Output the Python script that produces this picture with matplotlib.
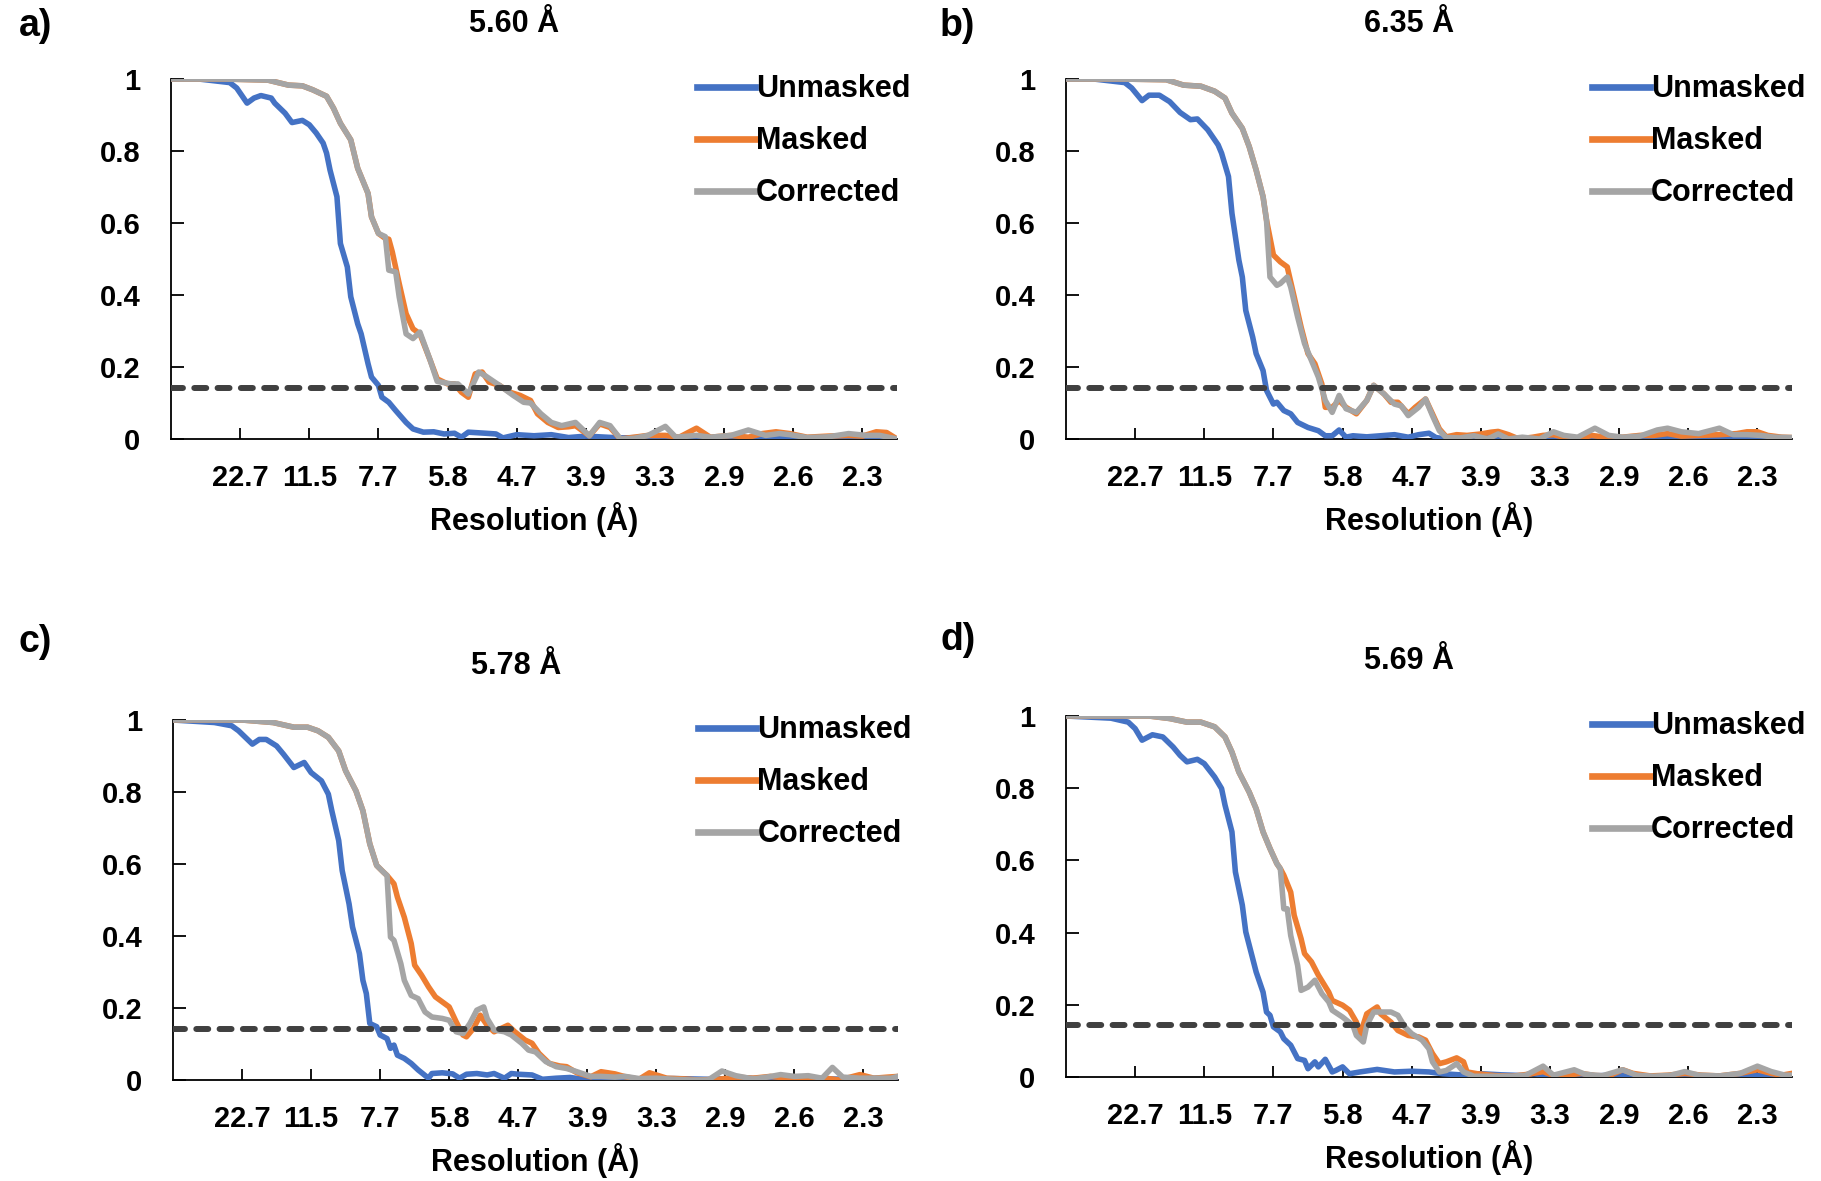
#!/usr/bin/env python
# -*- coding: utf-8 -*-

"""
FSC curves (Unmasked / Masked / Corrected) for four reconstructions, 2x2 panels.
"""

import matplotlib
matplotlib.use("Agg")
import matplotlib.pyplot as plt

# ---- data -------------------------------------------------------------------
# x is the shell index along the category axis (a tick label every 20 shells)
res_ticks = [20, 40, 60, 80, 100, 120, 140, 160, 180, 200]
res_labels = ['22.7', '11.5', '7.7', '5.8', '4.7', '3.9', '3.3', '2.9', '2.6', '2.3']
titles = ['5.60 Å', '6.35 Å', '5.78 Å', '5.69 Å']
panel_tags = ['a)', 'b)', 'c)', 'd)']
threshold = 0.143

# panel a
a_unm_x = [0, 8, 17, 19, 22, 24, 26, 29, 30, 33, 35, 38, 40, 42, 44, 45, 46, 48, 49, 51,
           52, 54, 55, 57, 58, 60, 61, 63, 65, 68, 70, 73, 76, 79, 82, 84, 86, 91, 94, 96,
           100, 105, 110, 115, 120, 130, 140, 150, 160, 170, 180, 190, 200, 210]
a_unm = [1.0, 1.0, 0.99, 0.975, 0.933, 0.947, 0.954, 0.947, 0.933, 0.905, 0.879, 0.885, 0.873,
         0.85, 0.822, 0.794, 0.747, 0.673, 0.543, 0.478, 0.395, 0.32, 0.292, 0.209, 0.172,
         0.149, 0.116, 0.102, 0.079, 0.046, 0.028, 0.019, 0.02, 0.014, 0.016, 0.005, 0.019,
         0.016, 0.014, 0.003, 0.012, 0.009, 0.012, 0.004, 0.008, 0.003, 0.005, 0.002, 0.004,
         0.003, 0.002, 0.004, 0.003, 0.0]
a_msk_x = [0, 15, 28, 31, 34, 38, 41, 45, 47, 49, 52, 54, 57, 58, 60, 62, 63, 64, 66, 68,
           70, 72, 75, 77, 80, 82, 84, 86, 88, 90, 92, 95, 98, 101, 104, 106, 109, 112, 115, 117,
           121, 124, 127, 130, 134, 138, 143, 147, 152, 156, 162, 167, 171, 175, 179, 184, 190,
           196, 200, 204, 207, 210]
a_msk = [1.0, 1.0, 0.997, 0.99, 0.983, 0.981, 0.97, 0.952, 0.919, 0.877, 0.831, 0.752, 0.682,
         0.617, 0.571, 0.557, 0.555, 0.52, 0.432, 0.348, 0.306, 0.292, 0.218, 0.167, 0.153,
         0.153, 0.13, 0.116, 0.181, 0.186, 0.158, 0.149, 0.13, 0.121, 0.107, 0.07, 0.046, 0.032,
         0.034, 0.037, 0.009, 0.042, 0.032, 0.0, 0.005, 0.01, 0.01, 0.005, 0.03, 0.005, 0.01,
         0.005, 0.015, 0.02, 0.015, 0.005, 0.008, 0.01, 0.008, 0.02, 0.018, 0.0]
a_cor_x = [0, 15, 28, 31, 34, 38, 41, 45, 47, 49, 52, 54, 57, 58, 60, 62, 63, 65, 66, 68,
           70, 72, 75, 77, 81, 83, 86, 89, 91, 95, 99, 102, 104, 107, 110, 113, 117, 121, 124, 127,
           130, 134, 138, 143, 146, 152, 156, 162, 167, 172, 176, 179, 184, 190, 196, 201, 205, 210]
a_cor = [1.0, 1.0, 0.997, 0.99, 0.983, 0.981, 0.97, 0.952, 0.919, 0.877, 0.831, 0.752, 0.682,
         0.617, 0.571, 0.562, 0.469, 0.464, 0.395, 0.292, 0.279, 0.297, 0.218, 0.16, 0.153,
         0.153, 0.125, 0.186, 0.175, 0.149, 0.121, 0.102, 0.1, 0.07, 0.046, 0.037, 0.046, 0.009,
         0.046, 0.037, 0.0, 0.002, 0.01, 0.035, 0.005, 0.01, 0.005, 0.01, 0.025, 0.01, 0.015,
         0.012, 0.004, 0.006, 0.015, 0.01, 0.01, 0.0]

# panel b
b_unm_x = [0, 8, 17, 19, 22, 24, 27, 30, 33, 36, 38, 41, 44, 45, 47, 48, 50, 51, 52, 54,
           55, 57, 58, 60, 61, 63, 65, 67, 70, 73, 75, 77, 79, 81, 83, 87, 91, 95, 99, 102,
           105, 107, 110, 120, 130, 140, 150, 160, 170, 180, 190, 200, 210]
b_unm = [1.0, 1.0, 0.99, 0.975, 0.94, 0.955, 0.955, 0.937, 0.907, 0.887, 0.889, 0.859, 0.817,
         0.794, 0.729, 0.627, 0.497, 0.45, 0.357, 0.283, 0.237, 0.19, 0.135, 0.097, 0.102,
         0.079, 0.07, 0.046, 0.032, 0.023, 0.009, 0.009, 0.025, 0.005, 0.009, 0.006, 0.009,
         0.012, 0.005, 0.012, 0.016, 0.004, 0.0, 0.003, 0.002, 0.004, 0.002, 0.003, 0.002,
         0.004, 0.003, 0.002, 0.0]
b_msk_x = [0, 15, 29, 34, 39, 43, 46, 48, 51, 53, 55, 57, 58, 60, 62, 64, 66, 68, 70, 72,
           74, 75, 77, 79, 81, 84, 87, 89, 92, 94, 96, 99, 101, 104, 106, 108, 110, 113, 116, 120,
           123, 125, 128, 131, 135, 138, 141, 144, 148, 152, 156, 161, 166, 170, 174, 178, 183,
           189, 194, 197, 200, 203, 207, 210]
b_msk = [1.0, 1.0, 0.998, 0.983, 0.98, 0.966, 0.947, 0.905, 0.863, 0.812, 0.747, 0.673, 0.608,
         0.511, 0.492, 0.478, 0.395, 0.311, 0.237, 0.209, 0.153, 0.088, 0.088, 0.107, 0.088,
         0.07, 0.107, 0.149, 0.125, 0.102, 0.102, 0.07, 0.088, 0.111, 0.07, 0.028, 0.006, 0.012,
         0.01, 0.014, 0.019, 0.021, 0.012, 0.0, 0.005, 0.01, 0.012, 0.005, 0.0, 0.01, 0.005,
         0.005, 0.01, 0.01, 0.015, 0.008, 0.01, 0.012, 0.015, 0.02, 0.02, 0.01, 0.005, 0.004]
b_cor_x = [0, 15, 29, 34, 39, 43, 46, 48, 51, 53, 55, 57, 58, 59, 61, 62, 64, 65, 67, 69,
           71, 73, 75, 77, 79, 81, 84, 87, 89, 92, 95, 97, 99, 102, 104, 106, 108, 110, 114, 118,
           122, 125, 128, 132, 137, 141, 144, 148, 153, 157, 161, 166, 171, 174, 178, 183, 189,
           193, 197, 201, 205, 210]
b_cor = [1.0, 1.0, 0.998, 0.983, 0.98, 0.966, 0.947, 0.905, 0.863, 0.812, 0.747, 0.673, 0.608,
         0.45, 0.427, 0.432, 0.45, 0.422, 0.339, 0.265, 0.218, 0.172, 0.107, 0.074, 0.121,
         0.084, 0.074, 0.107, 0.149, 0.125, 0.097, 0.092, 0.065, 0.088, 0.111, 0.065, 0.023,
         0.004, 0.003, 0.009, 0.0, 0.014, 0.0, 0.005, 0.0, 0.02, 0.01, 0.005, 0.03, 0.01, 0.005,
         0.008, 0.025, 0.03, 0.02, 0.015, 0.03, 0.012, 0.012, 0.01, 0.005, 0.004]

# panel c
c_unm_x = [0, 12, 17, 19, 23, 25, 27, 30, 32, 35, 38, 40, 43, 45, 46, 48, 49, 51, 52, 54,
           55, 56, 57, 59, 60, 62, 63, 64, 65, 67, 69, 71, 74, 75, 78, 81, 83, 85, 88, 91,
           93, 96, 98, 100, 104, 107, 111, 115, 119, 125, 135, 145, 155, 165, 175, 185, 195,
           205, 210]
c_unm = [1.0, 0.993, 0.984, 0.97, 0.933, 0.946, 0.946, 0.928, 0.905, 0.868, 0.882, 0.854, 0.831,
         0.794, 0.748, 0.665, 0.582, 0.489, 0.425, 0.351, 0.277, 0.24, 0.157, 0.148, 0.125,
         0.115, 0.088, 0.097, 0.069, 0.06, 0.046, 0.028, 0.005, 0.018, 0.02, 0.017, 0.005,
         0.016, 0.018, 0.014, 0.018, 0.005, 0.018, 0.016, 0.014, 0.002, 0.005, 0.007, 0.002,
         0.005, 0.003, 0.004, 0.002, 0.005, 0.003, 0.004, 0.002, 0.005, 0.004]
c_msk_x = [0, 20, 29, 35, 39, 42, 45, 48, 50, 53, 55, 57, 59, 61, 62, 64, 65, 67, 69, 70,
           72, 74, 76, 78, 80, 82, 84, 85, 87, 89, 91, 93, 97, 99, 102, 104, 106, 109, 112, 114,
           117, 121, 124, 128, 131, 135, 138, 143, 148, 152, 158, 163, 168, 173, 178, 183, 189,
           193, 199, 203, 207, 210]
c_msk = [1.0, 1.0, 0.993, 0.98, 0.98, 0.97, 0.952, 0.914, 0.859, 0.803, 0.748, 0.656, 0.596,
         0.577, 0.568, 0.545, 0.508, 0.452, 0.379, 0.319, 0.291, 0.259, 0.231, 0.217, 0.203,
         0.162, 0.125, 0.12, 0.143, 0.18, 0.152, 0.134, 0.152, 0.134, 0.111, 0.102, 0.074,
         0.046, 0.039, 0.037, 0.02, 0.009, 0.023, 0.017, 0.009, 0.002, 0.02, 0.005, 0.003, 0.0,
         0.002, 0.008, 0.005, 0.01, 0.005, 0.002, 0.005, 0.0, 0.015, 0.005, 0.008, 0.01]
c_cor_x = [0, 20, 29, 35, 39, 42, 45, 48, 50, 53, 55, 57, 59, 61, 62, 63, 64, 66, 67, 69,
           71, 73, 75, 78, 80, 82, 84, 86, 88, 90, 91, 93, 96, 98, 101, 103, 105, 108, 111, 114,
           117, 121, 124, 128, 131, 135, 140, 145, 150, 155, 159, 163, 168, 172, 176, 180, 184,
           188, 191, 194, 199, 204, 208, 210]
c_cor = [1.0, 1.0, 0.993, 0.98, 0.98, 0.97, 0.952, 0.914, 0.859, 0.803, 0.748, 0.656, 0.596,
         0.577, 0.568, 0.397, 0.388, 0.323, 0.277, 0.235, 0.226, 0.189, 0.175, 0.171, 0.166,
         0.134, 0.129, 0.157, 0.194, 0.203, 0.171, 0.139, 0.134, 0.125, 0.102, 0.083, 0.078,
         0.051, 0.037, 0.032, 0.023, 0.01, 0.01, 0.008, 0.01, 0.004, 0.005, 0.002, 0.0, 0.0,
         0.025, 0.012, 0.003, 0.008, 0.015, 0.01, 0.012, 0.005, 0.035, 0.008, 0.005, 0.005,
         0.005, 0.01]

# panel d
d_unm_x = [0, 13, 18, 20, 22, 25, 28, 31, 33, 35, 38, 40, 43, 45, 46, 48, 49, 51, 52, 54,
           55, 57, 58, 59, 60, 62, 63, 65, 67, 69, 70, 72, 73, 75, 77, 78, 80, 82, 85, 90,
           95, 100, 105, 109, 114, 120, 126, 132, 135, 140, 150, 160, 170, 180, 190, 200, 210]
d_unm = [1.0, 0.994, 0.983, 0.965, 0.933, 0.948, 0.942, 0.914, 0.891, 0.873, 0.88, 0.868, 0.831,
         0.799, 0.753, 0.679, 0.568, 0.476, 0.402, 0.328, 0.291, 0.235, 0.18, 0.171, 0.139,
         0.125, 0.106, 0.088, 0.051, 0.046, 0.023, 0.042, 0.028, 0.049, 0.014, 0.018, 0.028,
         0.009, 0.014, 0.021, 0.014, 0.016, 0.014, 0.009, 0.006, 0.009, 0.006, 0.004, 0.009,
         0.004, 0.003, 0.005, 0.002, 0.004, 0.003, 0.004, 0.002]
d_msk_x = [0, 24, 30, 35, 39, 43, 46, 48, 50, 53, 55, 57, 59, 61, 62, 63, 65, 66, 68, 69,
           71, 73, 76, 77, 80, 82, 84, 85, 87, 90, 91, 94, 96, 99, 102, 104, 106, 108, 110, 113,
           115, 116, 119, 124, 129, 134, 138, 141, 145, 149, 153, 157, 161, 164, 169, 174, 179,
           184, 189, 195, 200, 204, 207, 210]
d_msk = [1.0, 1.0, 0.993, 0.983, 0.983, 0.97, 0.942, 0.9, 0.845, 0.789, 0.743, 0.679, 0.633,
         0.591, 0.577, 0.559, 0.512, 0.448, 0.383, 0.342, 0.319, 0.282, 0.235, 0.212, 0.199,
         0.185, 0.152, 0.115, 0.175, 0.194, 0.175, 0.152, 0.129, 0.115, 0.111, 0.102, 0.065,
         0.037, 0.042, 0.053, 0.042, 0.014, 0.009, 0.004, 0.002, 0.008, 0.015, 0.004, 0.005,
         0.01, 0.004, 0.003, 0.02, 0.01, 0.003, 0.005, 0.01, 0.005, 0.003, 0.01, 0.02, 0.01,
         0.005, 0.01]
d_cor_x = [0, 24, 30, 35, 39, 43, 46, 48, 50, 53, 55, 57, 59, 61, 62, 63, 64, 65, 67, 68,
           70, 72, 74, 76, 77, 80, 83, 84, 86, 87, 89, 91, 94, 96, 98, 100, 103, 105, 106, 108,
           110, 113, 115, 118, 124, 129, 133, 138, 141, 147, 150, 155, 161, 165, 170, 175, 179,
           183, 189, 195, 200, 204, 208, 210]
d_cor = [1.0, 1.0, 0.993, 0.983, 0.983, 0.97, 0.942, 0.9, 0.845, 0.789, 0.743, 0.679, 0.633,
         0.591, 0.577, 0.466, 0.466, 0.392, 0.309, 0.24, 0.249, 0.268, 0.231, 0.208, 0.185,
         0.166, 0.143, 0.115, 0.097, 0.143, 0.18, 0.18, 0.18, 0.171, 0.139, 0.12, 0.102, 0.078,
         0.042, 0.014, 0.018, 0.037, 0.014, 0.002, 0.002, 0.002, 0.005, 0.03, 0.005, 0.02,
         0.008, 0.003, 0.02, 0.005, 0.002, 0.005, 0.015, 0.005, 0.003, 0.01, 0.03, 0.015,
         0.005, 0.005]

# ---- style ------------------------------------------------------------------
W, H = 1821, 1181
BLUE = '#4472C4'
ORANGE = '#ED7D31'
GRAY = '#A5A5A5'
FS = 21      # tick labels
FS_BIG = 22  # legend, axis label, titles
LW = 4.0

# axes boxes in pixels: left, right, top, bottom
boxes = [(171, 897, 79, 439), (1066, 1792, 79, 439),
         (173, 898, 720, 1080), (1066, 1792, 716, 1077)]
title_pos = [(514, 24), (1409, 24), (516, 666), (1409, 661)]
tag_pos = [(19, 26), (940, 26), (19, 642), (940, 640)]


def px_box(l, r, t, b):
    """pixel box -> figure fraction rect"""
    return [l / W, 1 - b / H, (r - l) / W, (b - t) / H]


def draw_panel(ax, unm, msk, cor):
    ax.plot(unm[0], unm[1], color=BLUE, lw=LW, label='Unmasked', zorder=3,
            solid_joinstyle='round')
    ax.plot(msk[0], msk[1], color=ORANGE, lw=LW, label='Masked', zorder=4,
            solid_joinstyle='round')
    ax.plot(cor[0], cor[1], color=GRAY, lw=LW, label='Corrected', zorder=5,
            solid_joinstyle='round')
    ax.axhline(threshold, color='#404040', lw=4.3, dashes=(2.0, 1.9),
               dash_capstyle='round', zorder=6)

    ax.set_xlim(0, 210)
    ax.set_ylim(0, 1)
    for s in ['top', 'right']:
        ax.spines[s].set_visible(False)
    for s in ['left', 'bottom']:
        ax.spines[s].set_linewidth(1.3)
        ax.spines[s].set_color('black')

    ax.set_xticks(res_ticks)
    ax.set_xticklabels(res_labels)
    ax.set_yticks([0, 0.2, 0.4, 0.6, 0.8, 1.0])
    ax.set_yticklabels(['0', '0.2', '0.4', '0.6', '0.8', '1'])
    ax.tick_params(axis='x', direction='in', length=8, width=1.3, pad=18, labelsize=FS)
    ax.tick_params(axis='y', direction='in', length=9, width=1.3, pad=22, labelsize=FS)
    for lab in ax.get_xticklabels() + ax.get_yticklabels():
        lab.set_fontweight('bold')
    ax.set_xlabel('Resolution (Å)', fontsize=FS_BIG, fontweight='bold', labelpad=7)

    leg = ax.legend(loc='upper left', bbox_to_anchor=(0.724, 1.013), frameon=False,
                    borderpad=0, borderaxespad=0, handlelength=1.9, handletextpad=0.05,
                    labelspacing=0.72, prop={'size': FS_BIG, 'weight': 'bold'})
    for line in leg.get_lines():
        line.set_linewidth(4.8)


def main():
    plt.rcParams['font.family'] = ['Liberation Sans', 'DejaVu Sans']
    fig = plt.figure(figsize=(W / 100, H / 100), dpi=100)

    data = [((a_unm_x, a_unm), (a_msk_x, a_msk), (a_cor_x, a_cor)),
            ((b_unm_x, b_unm), (b_msk_x, b_msk), (b_cor_x, b_cor)),
            ((c_unm_x, c_unm), (c_msk_x, c_msk), (c_cor_x, c_cor)),
            ((d_unm_x, d_unm), (d_msk_x, d_msk), (d_cor_x, d_cor))]

    for i in range(4):
        ax = fig.add_axes(px_box(*boxes[i]))
        draw_panel(ax, *data[i])
        tx, ty = title_pos[i]
        fig.text(tx / W, 1 - ty / H, titles[i], ha='center', va='center',
                 fontsize=FS_BIG, fontweight='bold')
        gx, gy = tag_pos[i]
        fig.text(gx / W, 1 - gy / H, panel_tags[i], ha='left', va='center',
                 fontsize=27, fontweight='bold')

    fig.savefig('out.png', dpi=100)


if __name__ == "__main__":
    main()
